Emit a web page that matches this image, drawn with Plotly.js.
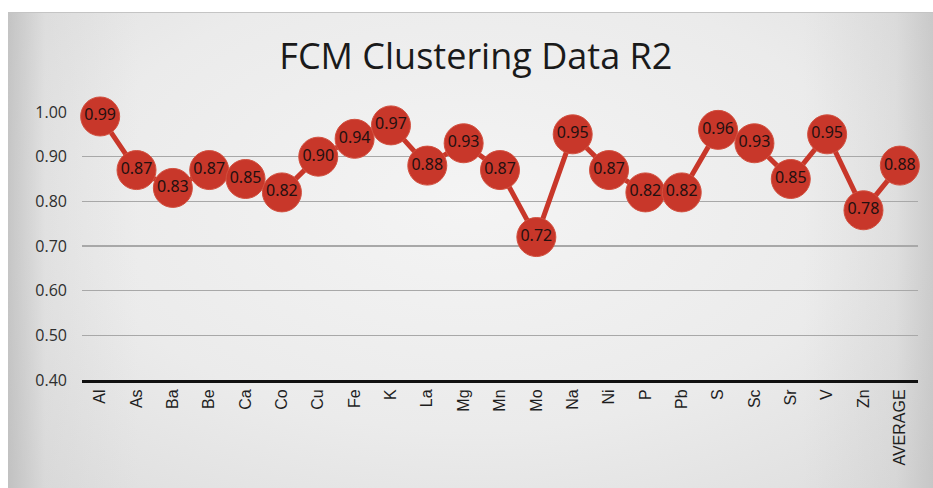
<!DOCTYPE html>
<html>
<head>
<meta charset="utf-8">
<script src="https://cdn.plot.ly/plotly-3.0.1.min.js"></script>
<style>
  html, body { margin: 0; padding: 0; background: #ffffff; }
  #wrap { position: absolute; left: 0; top: 0; width: 933px; height: 488px; background: #ffffff; }
  #bg { position: absolute; left: 8px; top: 12px; width: 925px; height: 476px;
        background:
          linear-gradient(to right, rgba(170,170,170,0.55) 0%, rgba(200,200,200,0.25) 4%, rgba(255,255,255,0) 14%, rgba(255,255,255,0) 86%, rgba(190,190,190,0.25) 96%, rgba(170,170,170,0.45) 100%),
          radial-gradient(ellipse 70% 80% at 50% 40%, #f4f4f4 0%, #ebebeb 60%, #dedede 100%);
        border-top: 1px solid #c4c4c4; box-sizing: border-box; }
  #chart { position: absolute; left: 0; top: 0; width: 933px; height: 488px; }
</style>
</head>
<body>
<div id="wrap">
  <div id="bg"></div>
  <div id="chart"></div>
</div>
<script>
const categories = ["Al","As","Ba","Be","Ca","Co","Cu","Fe","K","La","Mg","Mn","Mo","Na","Ni","P","Pb","S","Sc","Sr","V","Zn","AVERAGE"];
const r2Values = [0.99,0.87,0.83,0.87,0.85,0.82,0.90,0.94,0.97,0.88,0.93,0.87,0.72,0.95,0.87,0.82,0.82,0.96,0.93,0.85,0.95,0.78,0.88];
const yTickValues = [0.4,0.5,0.6,0.7,0.8,0.9,1.0];
const yTickLabels = ["0.40","0.50","0.60","0.70","0.80","0.90","1.00"];
const chartTitle = "FCM Clustering Data R2";

const red = "#c8372a";

const trace = {
  type: "scatter",
  mode: "lines+markers+text",
  x: categories,
  y: r2Values,
  text: r2Values.map(v => v.toFixed(2)),
  textposition: "middle center",
  textfont: { family: "Noto Sans, sans-serif", size: 16, color: "#231010" },
  line: { color: red, width: 5 },
  marker: { color: red, size: 39, line: { width: 1, color: "#d2503f" } },
  cliponaxis: false,
  hoverinfo: "x+y"
};

const layout = {
  width: 933,
  height: 488,
  paper_bgcolor: "rgba(0,0,0,0)",
  plot_bgcolor: "rgba(0,0,0,0)",
  margin: { l: 82, r: 15, t: 112, b: 108 },
  showlegend: false,
  title: {
    text: chartTitle,
    x: 0.51,
    xanchor: "center",
    y: 0.885,
    yanchor: "middle",
    font: { family: "Open Sans, sans-serif", size: 36, color: "#1a1a1a" }
  },
  xaxis: {
    type: "category",
    range: [-0.5, 22.5],
    tickangle: -90,
    tickfont: { family: "Liberation Sans, Arial, sans-serif", size: 16, color: "#1e1e1e" },
    showgrid: false,
    showline: true,
    linecolor: "#111111",
    linewidth: 3,
    ticks: "",
    ticklen: 0,
    zeroline: false,
    fixedrange: true
  },
  yaxis: {
    range: [0.4, 1.0],
    tickvals: yTickValues,
    ticktext: yTickLabels,
    tickfont: { family: "Open Sans, sans-serif", size: 16, color: "#2e2e2e" },
    showgrid: true,
    gridcolor: "#a8a8a8",
    gridwidth: 1.5,
    zeroline: false,
    showline: false,
    ticks: "",
    ticklabelstandoff: 14,
    fixedrange: true
  }
};

Plotly.newPlot("chart", [trace], layout, { displayModeBar: false, staticPlot: true });
</script>
</body>
</html>
